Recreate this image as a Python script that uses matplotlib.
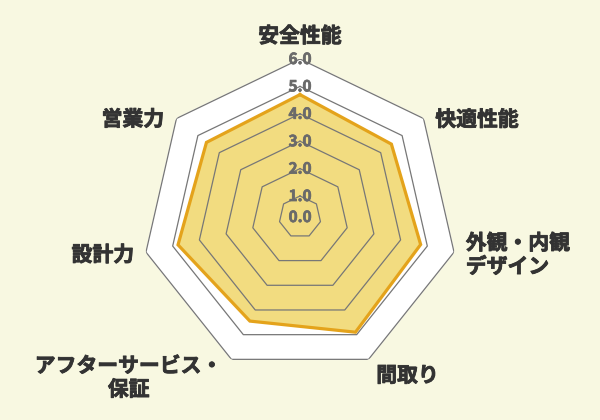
import matplotlib.pyplot as plt
import matplotlib.patheffects as pe
import numpy as np

plt.rcParams['font.family'] = ['Noto Sans CJK JP', 'DejaVu Sans']

categories = ['安全性能', '快適性能', '外観・内観\nデザイン', '間取り',
              'アフターサービス・\n保証', '設計力', '営業力']
scores = [4.7, 4.5, 4.75, 4.9, 4.45, 4.8, 4.6]
ticks = [1, 2, 3, 4, 5, 6]
r_min, r_max = 0.234, 6.0

# label placement: radius, ha, va, multi-line alignment
label_pos = [
    (6.84, 'center', 'center', 'center'),
    (6.55, 'left', 'top', 'left'),
    (6.44, 'left', 'center', 'left'),
    (6.65, 'left', 'center', 'left'),
    (6.74, 'right', 'center', 'center'),
    (6.44, 'right', 'center', 'right'),
    (6.57, 'right', 'top', 'right'),
]

bg = '#f8f8e1'
fig = plt.figure(figsize=(6, 4.2), dpi=100, facecolor=bg)
ax = fig.add_axes([142 / 600, 45 / 420, 316 / 600, 316 / 420], projection='polar')
ax.set_theta_zero_location('N')
ax.set_theta_direction(-1)
ax.set_ylim(r_min, r_max)
ax.patch.set_alpha(0)
ax.spines['polar'].set_visible(False)
ax.set_xticks([])
ax.set_yticks([])
ax.grid(False)

angles = np.linspace(0, 2 * np.pi, len(categories), endpoint=False)
closed = np.append(angles, angles[0])

# white plot area
ax.fill(closed, [r_max] * len(closed), color='white', zorder=0)

vals = np.append(scores, scores[0])
ax.fill(closed, vals, color='#f2dc80', zorder=1)

for t in ticks:
    ax.plot(closed, [t] * len(closed), color='#777777', lw=0.9, zorder=2)

ax.plot(closed, vals, color='#e4a31b', lw=2.3, zorder=3, solid_joinstyle='miter')

for t in [0] + ticks:
    ax.text(0, max(t, r_min), f'{t:.1f}', ha='center', va='center',
            fontsize=11, fontweight='bold', color='#6a6a6a', zorder=4,
            path_effects=[pe.withStroke(linewidth=0.5, foreground='#6a6a6a')])

for ang, name, (r, ha, va, ma) in zip(angles, categories, label_pos):
    ax.text(ang, r, name, ha=ha, va=va, multialignment=ma,
            fontsize=15, fontweight='bold', color='#333333',
            linespacing=1.15, clip_on=False,
            path_effects=[pe.withStroke(linewidth=0.6, foreground='#333333')])

fig.savefig('out.png', dpi=100, facecolor=bg)
